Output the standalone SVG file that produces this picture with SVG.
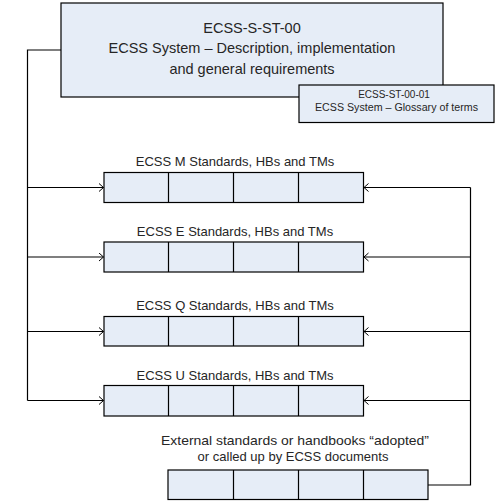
<svg xmlns="http://www.w3.org/2000/svg" width="497" height="501" viewBox="0 0 497 501">
<style>
.box{fill:#E6EDF7;stroke:#000;stroke-width:1.2}
.div{stroke:#000;stroke-width:1.2}
.con{fill:none;stroke:#000;stroke-width:1.2}
text{font-family:"Liberation Sans",Arial,sans-serif;fill:#262626;text-anchor:middle}
.t1{font-size:14.5px}
.t2{font-size:10px}
.lbl{font-size:13px}
</style>
<defs>
<marker id="arr" markerUnits="userSpaceOnUse" markerWidth="8" markerHeight="10" refX="5" refY="4.5" orient="auto">
<path d="M0.5,0.5 L5,4.5 L0.5,8.5" fill="none" stroke="#000" stroke-width="1"/>
</marker>
</defs>
<g id="connectors">
<path class="con" d="M61,50 H27.5 V400.5"/>
<path class="con" d="M27.5,187.5 H103.5" marker-end="url(#arr)"/>
<path class="con" d="M27.5,257 H103.5" marker-end="url(#arr)"/>
<path class="con" d="M27.5,331.5 H103.5" marker-end="url(#arr)"/>
<path class="con" d="M27.5,400.5 H103.5" marker-end="url(#arr)"/>
<path class="con" d="M428,485 H470.5 V187.5"/>
<path class="con" d="M470.5,187.5 H364" marker-end="url(#arr)"/>
<path class="con" d="M470.5,257 H364" marker-end="url(#arr)"/>
<path class="con" d="M470.5,331.5 H364" marker-end="url(#arr)"/>
<path class="con" d="M470.5,400.5 H364" marker-end="url(#arr)"/>
</g>
<g id="ecss-s-st-00">
<rect class="box" x="61" y="3" width="382" height="94"/>
<text class="t1" x="252" y="32.5">ECSS-S-ST-00</text>
<text class="t1" x="252" y="53">ECSS System – Description, implementation</text>
<text class="t1" x="252" y="73.5">and general requirements</text>
</g>
<g id="ecss-st-00-01">
<rect class="box" x="299" y="85" width="195" height="37.5"/>
<text class="t2" x="394" y="98">ECSS-ST-00-01</text>
<text class="t2" x="396.5" y="110.5" textLength="163" lengthAdjust="spacingAndGlyphs">ECSS System – Glossary of terms</text>
</g>
<g id="m-standards">
<text class="lbl" x="235" y="166">ECSS M Standards, HBs and TMs</text>
<rect class="box" x="104" y="172.5" width="259.5" height="30"/>
<path class="div" d="M168.5,172.5 V202.5 M233.5,172.5 V202.5 M298.5,172.5 V202.5"/>
</g>
<g id="e-standards">
<text class="lbl" x="235" y="236">ECSS E Standards, HBs and TMs</text>
<rect class="box" x="104" y="242" width="259.5" height="30"/>
<path class="div" d="M168.5,242 V272 M233.5,242 V272 M298.5,242 V272"/>
</g>
<g id="q-standards">
<text class="lbl" x="235" y="310">ECSS Q Standards, HBs and TMs</text>
<rect class="box" x="104" y="316.5" width="259.5" height="29.5"/>
<path class="div" d="M168.5,316.5 V346 M233.5,316.5 V346 M298.5,316.5 V346"/>
</g>
<g id="u-standards">
<text class="lbl" x="235" y="379.5">ECSS U Standards, HBs and TMs</text>
<rect class="box" x="104" y="385.5" width="259.5" height="30.5"/>
<path class="div" d="M168.5,385.5 V416 M233.5,385.5 V416 M298.5,385.5 V416"/>
</g>
<g id="external">
<text class="lbl" x="295" y="445" textLength="268" lengthAdjust="spacingAndGlyphs">External standards or handbooks “adopted”</text>
<text class="lbl" x="293" y="461">or called up by ECSS documents</text>
<rect class="box" x="168" y="470" width="260" height="29.5"/>
<path class="div" d="M233.5,470 V499.5 M298.5,470 V499.5 M363.5,470 V499.5"/>
</g>
</svg>
